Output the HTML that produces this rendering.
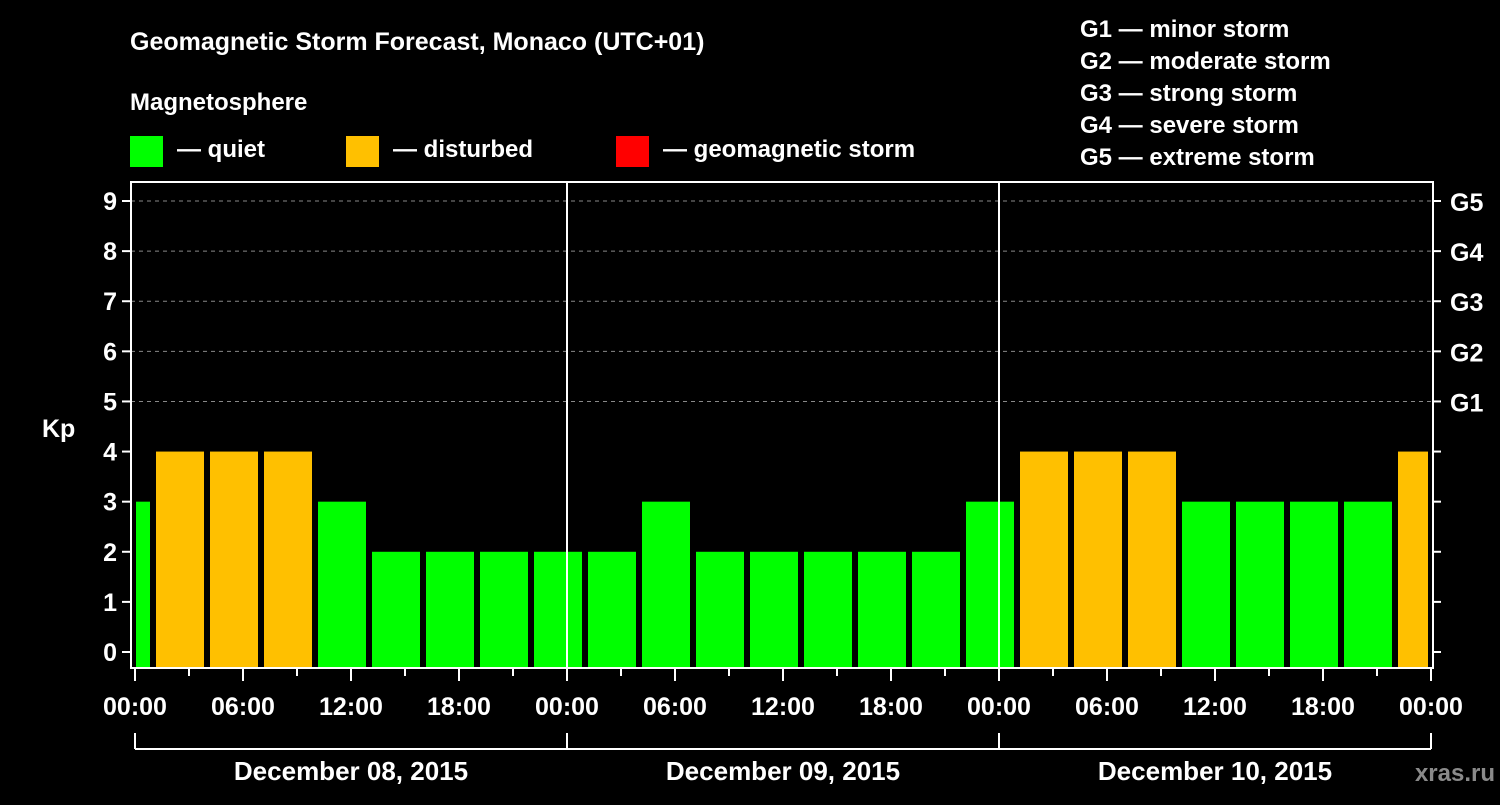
<!DOCTYPE html>
<html><head><meta charset="utf-8"><style>
body{margin:0;background:#000;width:1500px;height:800px;overflow:hidden}
svg text{font-family:"Liberation Sans",sans-serif;font-weight:bold;fill:#fff}
</style></head><body>
<svg id="chart" width="1500" height="800" viewBox="0 0 1500 800">
<rect width="1500" height="800" fill="#000"/>
<text x="130" y="50" font-size="25">Geomagnetic Storm Forecast, Monaco (UTC+01)</text>
<text x="130" y="110" font-size="24">Magnetosphere</text>
<rect x="130" y="136" width="33" height="31" fill="#00ff00"/>
<text x="177" y="157" font-size="24">— quiet</text>
<rect x="346" y="136" width="33" height="31" fill="#ffc000"/>
<text x="393" y="157" font-size="24">— disturbed</text>
<rect x="616" y="136" width="33" height="31" fill="#ff0000"/>
<text x="663" y="157" font-size="24">— geomagnetic storm</text>
<g font-size="24">
<text x="1080" y="37">G1 — minor storm</text>
<text x="1080" y="69">G2 — moderate storm</text>
<text x="1080" y="101">G3 — strong storm</text>
<text x="1080" y="133">G4 — severe storm</text>
<text x="1080" y="165">G5 — extreme storm</text>
</g>
<g id="grid"></g>
<g id="bars"></g>
<g id="axes"></g>
<text x="1495" y="781" font-size="24" text-anchor="end" fill="#888" style="fill:#8a8a8a">xras.ru</text>
</svg>
<script>
const kpValues=[3,4,4,4,3,2,2,2,2,2,3,2,2,2,2,2,3,4,4,4,3,3,3,3,4];
const kpTicks=[0,1,2,3,4,5,6,7,8,9];
const gLabels=["G1","G2","G3","G4","G5"];
const gLevels=[5,6,7,8,9];
const timeLabels=["00:00","06:00","12:00","18:00"];
const dayLabels=["December 08, 2015","December 09, 2015","December 10, 2015"];
const firstBarHour=-0.5;
const NS="http://www.w3.org/2000/svg";
const X0=135,PXH=18,Y0=652,PXK=50.11,L=131,R=1433,T=182,B=668;
const x=h=>X0+h*PXH, y=k=>Y0-k*PXK;
function mk(tag,attrs,parent){const e=document.createElementNS(NS,tag);for(const k in attrs)e.setAttribute(k,attrs[k]);document.getElementById(parent).appendChild(e);return e;}
gLevels.forEach((lv,i)=>{
 const ln=mk('line',{x1:L,x2:R,y1:y(lv),y2:y(lv),stroke:'#888','stroke-dasharray':'4,4','stroke-width':1},'grid');
 
 
 const t=mk('text',{x:1450,y:y(lv)+10,'font-size':25},'axes');t.textContent=gLabels[i];
 
 
});
kpValues.forEach((v,i)=>{
 const c=firstBarHour+i*3;
 let a=x(c-1.5)+3,b=x(c+1.5)-3;
 a=Math.max(a,x(0)+1);b=Math.min(b,x(72)-3);
 const r=mk('rect',{x:a,y:y(v),width:b-a,height:B-y(v),fill:v>=5?'#ff0000':(v>=4?'#ffc000':'#00ff00')},'bars');
 
 
});
[24,48].forEach(h=>{const l=mk('line',{x1:x(h),x2:x(h),y1:T,y2:B,stroke:'#fff','stroke-width':2},'axes');
 
 });
const box=mk('rect',{x:L,y:T,width:R-L,height:B-T,fill:'none',stroke:'#fff','stroke-width':2},'axes');


kpTicks.forEach(k=>{
 mk('line',{x1:L-9,x2:L,y1:y(k),y2:y(k),stroke:'#fff','stroke-width':2},'axes');
 mk('line',{x1:R,x2:R+8,y1:y(k),y2:y(k),stroke:'#fff','stroke-width':2},'axes');
 const t=mk('text',{x:L-14,y:y(k)+9,'font-size':25,'text-anchor':'end'},'axes');t.textContent=k;
 
 
});
const kp=mk('text',{x:42,y:437,'font-size':25},'axes');kp.textContent='Kp';


for(let h=0;h<=72;h+=3){
 const major=h%6===0;
 mk('line',{x1:x(h),x2:x(h),y1:B,y2:B+(major?13:8),stroke:'#fff','stroke-width':2},'axes');
 if(major){const t=mk('text',{x:x(h),y:715,'font-size':25,'text-anchor':'middle'},'axes');t.textContent=timeLabels[(h/6)%4];
 
 }
}
mk('line',{x1:x(0),x2:x(72),y1:749,y2:749,stroke:'#fff','stroke-width':2},'axes');
for(let d=0;d<=3;d++)mk('line',{x1:x(d*24),x2:x(d*24),y1:733,y2:749,stroke:'#fff','stroke-width':2},'axes');
dayLabels.forEach((s,d)=>{const t=mk('text',{x:x(d*24+12),y:780,'font-size':26,'text-anchor':'middle'},'axes');t.textContent=s;
 
 });
</script>
</body></html>
